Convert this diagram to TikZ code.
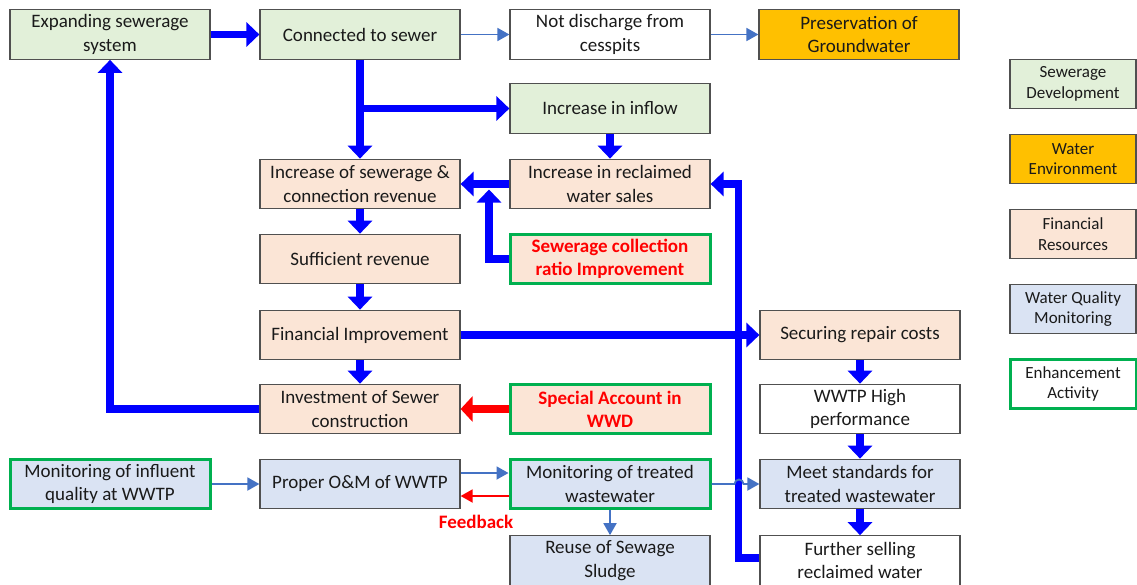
\documentclass[tikz,border=0pt]{standalone}
\usepackage{fontspec}
\setmainfont{Carlito}
\usetikzlibrary{arrows.meta}
\definecolor{sgreen}{HTML}{E2F0D9}
\definecolor{speach}{HTML}{FBE5D6}
\definecolor{sblue}{HTML}{DAE3F3}
\definecolor{sorange}{HTML}{FFC000}
\definecolor{enh}{HTML}{00B050}
\definecolor{thinblue}{HTML}{4472C4}
\definecolor{txt}{HTML}{1A1A1A}
\definecolor{edge}{HTML}{505050}
\begin{document}
\begin{tikzpicture}[x=1pt,y=-1pt,
  box/.style={draw=edge,line width=1.2pt,minimum width=200pt,minimum height=49.5pt,
    inner sep=0pt,align=center,text=txt,font=\fontsize{19}{23.3}\selectfont},
  devbox/.style={box,fill=sgreen},
  envbox/.style={box,fill=sorange},
  finbox/.style={box,fill=speach},
  wqbox/.style={box,fill=sblue},
  plainbox/.style={box,fill=white},
  enhbox/.style={draw=enh,line width=3pt},
  redtext/.style={text=red,font=\fontsize{19}{23.3}\selectfont\bfseries},
  legbox/.style={box,minimum width=126pt,font=\fontsize{17}{20.6}\selectfont},
  bigarrow/.style={draw=blue,line width=7.5pt,-{Triangle[width=24pt,length=13pt]}},
  redarrow/.style={draw=red,line width=7.5pt,-{Triangle[width=25pt,length=12pt]}},
  thinarrow/.style={draw=thinblue,line width=1.8pt,-{Triangle[width=13pt,length=12pt]}},
  fbarrow/.style={draw=red,line width=1.8pt,-{Triangle[width=13pt,length=12pt]}},
]
\useasboundingbox (0,0) rectangle (1137,584);
\clip (0,0) rectangle (1137,584);

% main flow boxes
\node[devbox]  (A) at (110,34.5) {Expanding sewerage\\system};
\node[devbox]  (B) at (360,34.5) {Connected to sewer};
\node[plainbox](C) at (610,34.5) {Not discharge from\\cesspits};
\node[envbox]  (D) at (859,34.5) {Preservation of\\Groundwater};

\node[devbox]  (inflow) at (610,108.5) {Increase in inflow};

\node[finbox]  (increv) at (360,184) {Increase of sewerage \&\\connection revenue};
\node[finbox]  (reclaim) at (610,184) {Increase in reclaimed\\water sales};

\node[finbox]  (suff) at (360,259) {Sufficient revenue};
\node[finbox,enhbox,redtext] (ratio) at (610,259) {Sewerage collection\\ratio Improvement};

\node[finbox]  (finimp) at (360,335) {Financial Improvement};
\node[finbox]  (secure) at (860,335) {Securing repair costs};

\node[finbox]  (invest) at (360,409) {Investment of Sewer\\construction};
\node[finbox,enhbox,redtext] (special) at (610,409) {Special Account in\\WWD};
\node[plainbox](wwtph) at (860,409) {WWTP High\\performance};

\node[wqbox,enhbox] (moninf) at (110,484) {Monitoring of influent\\quality at WWTP};
\node[wqbox]   (om) at (360,484) {Proper O\&M of WWTP};
\node[wqbox,enhbox] (montr) at (610,484) {Monitoring of treated\\wastewater};
\node[wqbox]   (meet) at (860,484) {Meet standards for\\treated wastewater};

\node[wqbox]   (reuse) at (610,560.5) {Reuse of Sewage\\Sludge};
\node[plainbox](further) at (860,560.5) {Further selling\\reclaimed water};

% legend
\node[legbox,fill=sgreen]  (L1) at (1073,84)  {Sewerage\\Development};
\node[legbox,fill=sorange] (L2) at (1073,159) {Water\\Environment};
\node[legbox,fill=speach]  (L3) at (1073,234) {Financial\\Resources};
\node[legbox,fill=sblue]   (L4) at (1073,309) {Water Quality\\Monitoring};
\node[legbox,fill=white,enhbox] (L5) at (1073,384) {Enhancement\\Activity};

% thick connectors
\draw[bigarrow] (A) -- (B);
\draw[bigarrow] (B) -- (increv);
\draw[bigarrow] (B.south |- inflow.west) -- (inflow.west);
\draw[bigarrow] (inflow) -- (reclaim);
\draw[bigarrow] (reclaim) -- (increv);
\coordinate (ratiotip) at (489,189.5);
\draw[bigarrow] (ratio.west) -| (ratiotip);
\draw[bigarrow] (increv) -- (suff);
\draw[bigarrow] (suff) -- (finimp);
\draw[bigarrow] (finimp) -- (invest);
\draw[bigarrow] (finimp) -- (secure);
\draw[bigarrow] (invest.west) -| (A.south);
\draw[redarrow] (special) -- (invest);
\draw[bigarrow] (secure) -- (wwtph);
\draw[bigarrow] (wwtph) -- (meet);
\draw[bigarrow] (meet) -- (further);
\draw[bigarrow] ([yshift=2.5pt]further.west) -- ++(-21,0) |- (reclaim.east);

% thin connectors
\draw[thinarrow] (B) -- (C);
\draw[thinarrow] (C) -- (D);
\draw[thinarrow] (moninf) -- (om);
\draw[thinarrow] ([yshift=11pt]om.east) -- ([yshift=11pt]montr.west);
\draw[fbarrow] ([yshift=-12pt]montr.west) -- ([yshift=-12pt]om.east);
\node[redtext] (fblabel) at (476,522) {Feedback};
\draw[thinarrow] (montr) -- (reuse);
\coordinate (hop) at (739,484);
\draw[thinarrow] (montr.east) -- ([xshift=-4.5pt]hop)
  arc[start angle=180,end angle=0,radius=4.5pt] -- (meet.west);
\end{tikzpicture}
\end{document}
